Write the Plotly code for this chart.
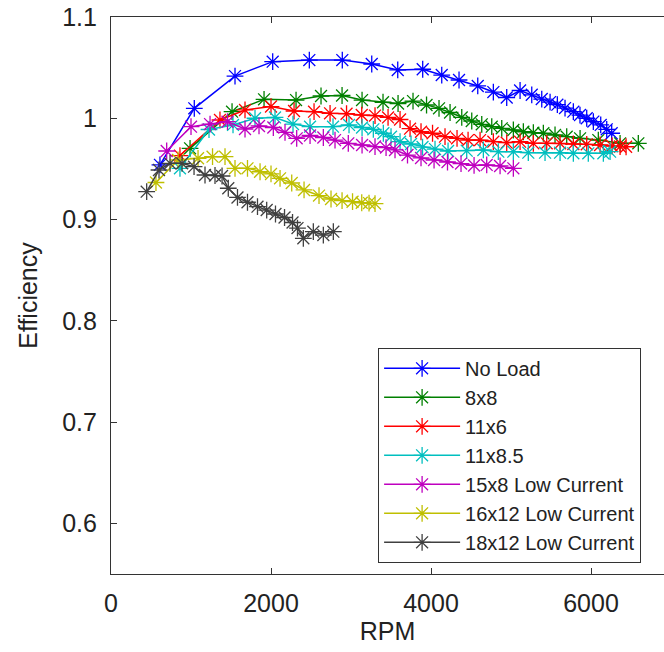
import plotly.graph_objects as go

# ---- data ----
noload_rpm = [612, 1041, 1550, 2021, 2479, 2891, 3259, 3584, 3896, 4134, 4350, 4584, 4779, 4946,
              5113, 5259, 5384, 5488, 5579, 5675, 5779, 5862, 5946, 6029, 6121, 6196, 6258]
noload_eff = [0.954, 1.0098, 1.0417, 1.0559, 1.0575, 1.0575, 1.0536, 1.0477, 1.0484, 1.0427, 1.0378,
              1.0319, 1.0259, 1.0205, 1.0274, 1.0232, 1.019, 1.016, 1.0134, 1.0101, 1.0065, 1.0032,
              1.0, 0.9967, 0.9934, 0.9891, 0.9852]

g8x8_rpm = [988, 1513, 1913, 2313, 2625, 2888, 3138, 3400, 3588, 3775, 3944, 4100, 4238, 4384, 4509,
            4634, 4759, 4884, 5029, 5154, 5279, 5404, 5550, 5696, 5863, 6091, 6363, 6591]
g8x8_eff = [0.9703, 1.0065, 1.0187, 1.018, 1.022, 1.0225, 1.018, 1.0158, 1.0146, 1.017, 1.0131, 1.0098,
            1.0057, 1.0008, 0.9973, 0.994, 0.9917, 0.9901, 0.9884, 0.9867, 0.9857, 0.9852, 0.9835,
            0.9818, 0.9802, 0.9785, 0.9753, 0.9753]

r11x6_rpm = [862, 1362, 1675, 2000, 2288, 2538, 2738, 2944, 3134, 3300, 3463, 3613, 3738, 3875, 4019,
             4175, 4325, 4463, 4613, 4779, 4946, 5113, 5279, 5446, 5613, 5779, 5946, 6113, 6263, 6363, 6438]
r11x6_eff = [0.9632, 0.9983, 1.0082, 1.0116, 1.0072, 1.0065, 1.0049, 1.0045, 1.0032, 1.0027, 1.0008,
             0.9988, 0.9897, 0.9867, 0.9852, 0.9818, 0.9802, 0.9785, 0.9785, 0.9769, 0.9759, 0.9769,
             0.9753, 0.9753, 0.9753, 0.9746, 0.9743, 0.9736, 0.9726, 0.9721, 0.9719]

c11x85_rpm = [862, 1225, 1525, 1800, 2050, 2275, 2488, 2775, 2975, 3138, 3279, 3404, 3500, 3613, 3750,
              3894, 4050, 4213, 4446, 4654, 4841, 5029, 5216, 5425, 5613, 5779, 5966, 6154, 6238]
c11x85_eff = [0.9506, 0.9889, 0.9934, 1.0, 1.0008, 0.9943, 0.9917, 0.9917, 0.9934, 0.9909, 0.9891,
              0.9852, 0.9818, 0.9769, 0.9746, 0.9716, 0.9696, 0.9677, 0.968, 0.9687, 0.967, 0.967,
              0.966, 0.966, 0.966, 0.9654, 0.9654, 0.9654, 0.967]

m15x8_rpm = [696, 1000, 1238, 1456, 1675, 1850, 2029, 2175, 2321, 2488, 2654, 2800, 2966, 3138, 3300,
             3438, 3550, 3706, 3875, 4038, 4206, 4375, 4538, 4696, 4863, 5029]
m15x8_eff = [0.9677, 0.9917, 0.9943, 0.9966, 0.9894, 0.9924, 0.9909, 0.986, 0.9802, 0.983, 0.981,
             0.9785, 0.9753, 0.9736, 0.9721, 0.9711, 0.9687, 0.9637, 0.9608, 0.9588, 0.9568, 0.9553,
             0.9534, 0.9539, 0.9529, 0.9506]

y16x12_rpm = [562, 838, 1088, 1269, 1425, 1550, 1706, 1863, 2000, 2113, 2259, 2413, 2600, 2750, 2888,
              3019, 3134, 3225, 3300]
y16x12_eff = [0.9366, 0.9588, 0.9605, 0.9621, 0.9621, 0.9506, 0.9506, 0.9472, 0.945, 0.9407, 0.9361,
              0.9292, 0.9237, 0.9203, 0.9186, 0.9176, 0.9166, 0.9163, 0.9158]

k18x12_rpm = [446, 600, 738, 888, 1038, 1175, 1300, 1388, 1466, 1581, 1706, 1831, 1946, 2056, 2169,
              2269, 2331, 2404, 2529, 2654, 2779]
k18x12_eff = [0.9275, 0.9489, 0.9555, 0.9555, 0.9522, 0.944, 0.9435, 0.943, 0.9309, 0.9218, 0.9171,
              0.9127, 0.9094, 0.9055, 0.902, 0.8971, 0.8916, 0.8815, 0.888, 0.8847, 0.888]

series_names = ["No Load", "8x8", "11x6", "11x8.5", "15x8 Low Current", "16x12 Low Current", "18x12 Low Current"]
series_x = [noload_rpm, g8x8_rpm, r11x6_rpm, c11x85_rpm, m15x8_rpm, y16x12_rpm, k18x12_rpm]
series_y = [noload_eff, g8x8_eff, r11x6_eff, c11x85_eff, m15x8_eff, y16x12_eff, k18x12_eff]
series_colors = ["#0000FF", "#008000", "#FF0000", "#00BFBF", "#BF00BF", "#BFBF00", "#404040"]

x_ticks = [0, 2000, 4000, 6000]
y_ticks = [0.6, 0.7, 0.8, 0.9, 1.0, 1.1]
y_tick_text = ["0.6", "0.7", "0.8", "0.9", "1", "1.1"]

fig = go.Figure()
for name, xs, ys, col in zip(series_names, series_x, series_y, series_colors):
    fig.add_trace(go.Scatter(
        x=xs, y=ys, name=name, mode="lines+markers",
        line=dict(color=col, width=1.5),
        marker=dict(symbol="asterisk-open", size=14, line=dict(color=col, width=1.3)),
    ))

font_family = "Liberation Sans, Arial, sans-serif"
fig.update_layout(
    width=664, height=652,
    margin=dict(l=111, r=0, t=17, b=78),
    paper_bgcolor="white", plot_bgcolor="white",
    font=dict(family=font_family, size=24, color="#222"),
    showlegend=True,
    legend=dict(
        x=0.483, y=0.406, xanchor="left", yanchor="top",
        bgcolor="white", bordercolor="#333", borderwidth=1,
        font=dict(size=20, color="#222"),
        tracegroupgap=0, itemwidth=76,
    ),
)
fig.update_xaxes(
    range=[0, 6912], tickvals=x_ticks, ticks="inside", ticklen=6, tickcolor="#333",
    showline=True, linecolor="#333", linewidth=1.2, mirror="ticks",
    showgrid=False, zeroline=False, ticklabelstandoff=7,
    title=dict(text="RPM", standoff=2, font=dict(size=25)),
    tickfont=dict(size=25),
)
fig.update_yaxes(
    range=[0.55, 1.1], tickvals=y_ticks, ticktext=y_tick_text, ticks="inside", ticklen=6,
    tickcolor="#333", showline=True, linecolor="#333", linewidth=1.2, mirror=False,
    showgrid=False, zeroline=False, ticklabelstandoff=8,
    title=dict(text="Efficiency", standoff=17, font=dict(size=25)),
    tickfont=dict(size=25),
)

fig.write_html("out.html")
